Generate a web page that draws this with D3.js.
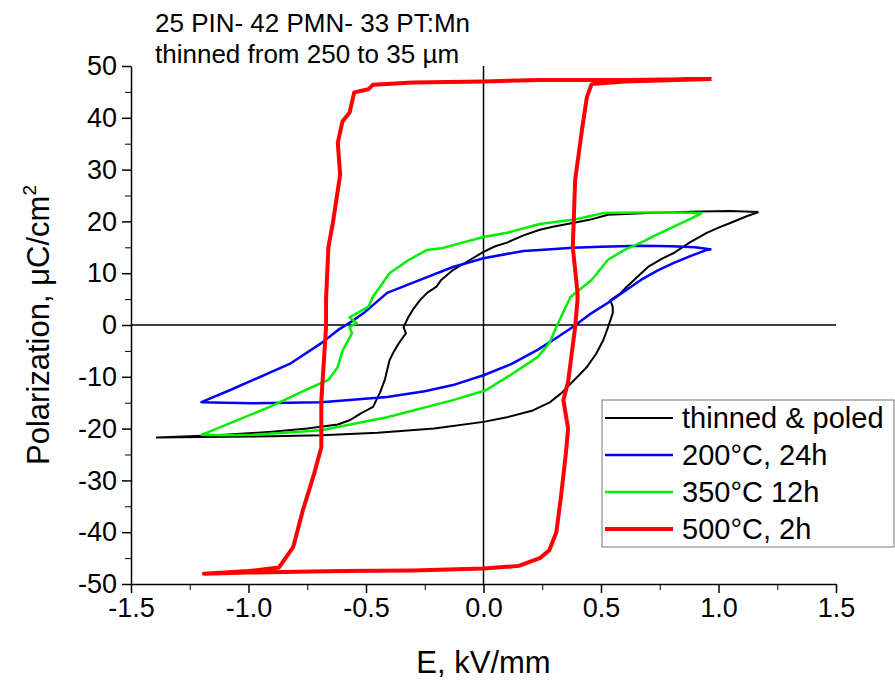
<!DOCTYPE html>
<html>
<head>
<meta charset="utf-8">
<script src="https://cdn.jsdelivr.net/npm/d3@7"></script>
<style>
  body { margin: 0; background: #fff; }
  text { font-family: "Liberation Sans", Arial, sans-serif; fill: #000; }
</style>
</head>
<body>
<svg id="chart" width="895" height="683"></svg>
<script>
// --- data (E in kV/mm, P in uC/cm^2) ---
const seriesNames = ["thinned & poled", "200°C, 24h", "350°C 12h", "500°C, 2h"];
const seriesColors = ["#000000", "#0000ff", "#00ee00", "#ff0000"];

const blackE = [1.17,1.05,0.92,0.70,0.53,0.45,0.38,0.30,0.24,0.17,0.10,0.05,0.0,-0.06,-0.13,-0.18,-0.20,-0.24,-0.27,-0.30,-0.32,-0.34,-0.33,-0.36,-0.38,-0.40,-0.42,-0.44,-0.47,-0.52,-0.57,-0.62,-0.75,-0.9,-1.1,-1.25,-1.39,
  -1.2,-0.9,-0.69,-0.45,-0.21,0.0,0.1,0.21,0.28,0.33,0.40,0.44,0.48,0.51,0.53,0.55,0.55,0.54,0.58,0.61,0.66,0.70,0.76,0.81,0.88,0.95,1.00,1.05,1.12,1.17];
const blackP = [21.8,22.0,21.9,21.6,21.3,20.3,19.7,19.0,18.4,17.3,15.9,15.2,14.1,12.5,10.6,8.7,7.4,6.2,4.8,3.0,1.5,-0.4,-1.6,-3.5,-5.0,-6.8,-10.6,-13,-15.8,-17.0,-18.4,-19.2,-20.0,-20.6,-21.2,-21.5,-21.7,
  -21.6,-21.5,-21.3,-20.8,-20.0,-18.7,-17.8,-16.5,-15.0,-13.2,-10.0,-8.1,-5.5,-2.9,-0.4,2.3,3.5,4.8,6.0,7.4,9.5,11.2,12.8,13.9,16.0,17.8,18.8,19.7,21.0,21.8];

const blueE = [0.97,0.90,0.80,0.67,0.50,0.38,0.24,0.17,0.0,-0.13,-0.27,-0.41,-0.51,-0.55,-0.62,-0.69,-0.82,-0.98,-1.08,-1.18,-1.2,
  -1.1,-0.98,-0.69,-0.41,-0.25,-0.13,0.0,0.12,0.23,0.30,0.38,0.45,0.53,0.60,0.67,0.74,0.81,0.88,0.95,0.97];
const blueP = [14.6,15.0,15.2,15.3,15.1,14.9,14.5,14.3,12.9,11.2,8.7,6.2,2.3,1.0,-1.0,-3.5,-7.4,-10.6,-12.6,-14.5,-14.9,
  -15.0,-15.1,-14.9,-13.9,-12.8,-11.6,-9.7,-7.5,-4.8,-2.8,-0.4,2.0,4.3,6.5,8.7,10.5,12.0,13.3,14.5,14.6];

const greenE = [0.93,0.80,0.67,0.51,0.45,0.38,0.24,0.10,0.0,-0.18,-0.24,-0.32,-0.40,-0.44,-0.47,-0.49,-0.57,-0.54,-0.57,-0.56,-0.60,-0.62,-0.66,-0.76,-0.91,-1.08,-1.2,
  -1.1,-0.98,-0.69,-0.41,-0.13,0.01,0.12,0.23,0.28,0.31,0.34,0.37,0.46,0.53,0.60,0.67,0.74,0.81,0.88,0.93];
const greenP = [21.6,21.7,21.7,21.6,21.0,20.3,19.5,17.8,17.0,14.8,14.5,12.5,10.0,7.4,5.5,3.5,1.5,0.4,-0.4,-1.6,-5.0,-8.1,-10.6,-12.6,-15.8,-19.0,-21.2,
  -21.3,-21.2,-20.3,-17.8,-14.5,-12.6,-9.5,-6.2,-3.5,-0.4,2.5,5.4,8.7,12.6,14.5,15.9,17.5,19.0,20.5,21.6];

const redE = [0.97,0.6,0.24,0.0,-0.3,-0.47,-0.49,-0.55,-0.57,-0.60,-0.62,-0.61,-0.64,-0.66,-0.67,-0.67,-0.69,-0.69,-0.72,-0.77,-0.81,-0.87,-1.0,-1.19,
  -1.0,-0.6,-0.3,0.0,0.15,0.24,0.28,0.31,0.33,0.35,0.36,0.34,0.36,0.39,0.40,0.40,0.38,0.39,0.42,0.44,0.46,0.6,0.97];
const redP = [47.5,47.3,47.3,47.0,46.8,46.4,45.5,44.9,41.0,39.3,35.2,29.0,20,15.0,5,-0.4,-14.5,-23.6,-28.6,-36,-42.9,-46.8,-47.5,-48.0,
  -47.8,-47.5,-47.4,-47.0,-46.5,-45.0,-43.5,-40,-33,-25,-20,-14.5,-11,-0.4,4.8,6.2,15,28,38,44,46.5,47,47.5];

const xTicks = [-1.5, -1.0, -0.5, 0.0, 0.5, 1.0, 1.5];
const yTicks = [-50, -40, -30, -20, -10, 0, 10, 20, 30, 40, 50];
const titleLines = ["25 PIN- 42 PMN- 33 PT:Mn", "thinned from 250 to 35 µm"];

// --- layout ---
const svg = d3.select("#chart");
const x = d3.scaleLinear().domain([-1.5, 1.5]).range([131, 836]);
const y = d3.scaleLinear().domain([-50, 50]).range([584, 66]);

// minor ticks
svg.append("g").attr("transform", "translate(0,584)")
  .call(d3.axisBottom(x).tickValues(d3.range(-1.25, 1.5, 0.5)).tickSize(6).tickFormat(""))
  .call(g => g.select(".domain").remove());
svg.append("g").attr("transform", "translate(131,0)")
  .call(d3.axisLeft(y).tickValues(d3.range(-45, 50, 10)).tickSize(6).tickFormat(""))
  .call(g => g.select(".domain").remove());

// major axes
const xAxis = svg.append("g").attr("transform", "translate(0,584)")
  .call(d3.axisBottom(x).tickValues(xTicks).tickSize(9).tickSizeOuter(0).tickPadding(5));
const yAxis = svg.append("g").attr("transform", "translate(131,0)")
  .call(d3.axisLeft(y).tickValues(yTicks).tickSize(9).tickSizeOuter(0).tickPadding(5));
[xAxis, yAxis].forEach(a => {
  a.selectAll("path, line").attr("stroke", "#000").attr("stroke-width", 1.5);
  a.selectAll("text").attr("font-size", 27).attr("font-family", "Liberation Sans, Arial, sans-serif").attr("fill", "#000");
});
xAxis.selectAll("text").text(d => d3.format(".1f")(d).replace("−", "-"));
yAxis.selectAll("text").text(d => String(d));

// zero lines
svg.append("line").attr("x1", x(-1.5)).attr("x2", x(1.5)).attr("y1", y(0)).attr("y2", y(0))
  .attr("stroke", "#000").attr("stroke-width", 1.5);
svg.append("line").attr("x1", x(0)).attr("x2", x(0)).attr("y1", y(50)).attr("y2", y(-50))
  .attr("stroke", "#000").attr("stroke-width", 1.5);

// loops
const loops = [
  { e: blackE, p: blackP, w: 2 },
  { e: blueE, p: blueP, w: 2.5 },
  { e: greenE, p: greenP, w: 2.5 },
  { e: redE, p: redP, w: 4 }
];
const line = d3.line().x(d => x(d[0])).y(d => y(d[1]));
loops.forEach((s, i) => {
  svg.append("path")
    .datum(s.e.map((v, j) => [v, s.p[j]]))
    .attr("d", line)
    .attr("fill", "none")
    .attr("stroke", seriesColors[i])
    .attr("stroke-width", s.w)
    .attr("stroke-linejoin", "round");
});

// title
svg.selectAll(".title").data(titleLines).join("text")
  .attr("x", 155).attr("y", (d, i) => 32 + i * 31)
  .attr("font-size", 26).text(d => d);

// axis labels
svg.append("text").attr("x", x(0)).attr("y", 673).attr("text-anchor", "middle")
  .attr("font-size", 31).text("E, kV/mm");
const yl = svg.append("text").attr("transform", "translate(49,325) rotate(-90)")
  .attr("text-anchor", "middle").attr("font-size", 31);
yl.append("tspan").text("Polarization, μC/cm");
yl.append("tspan").attr("dy", -13).attr("font-size", 19).text("2");

// legend
const lg = svg.append("g");
lg.append("rect").attr("x", 602).attr("y", 400).attr("width", 292).attr("height", 147)
  .attr("fill", "#fff").attr("stroke", "#777").attr("stroke-width", 1);
seriesNames.forEach((n, i) => {
  const yy = 418 + i * 37;
  lg.append("line").attr("x1", 605).attr("x2", 673).attr("y1", yy).attr("y2", yy)
    .attr("stroke", seriesColors[i]).attr("stroke-width", loops[i].w);
  lg.append("text").attr("x", 682).attr("y", yy + 10).attr("font-size", 29).text(n);
});
</script>
</body>
</html>
